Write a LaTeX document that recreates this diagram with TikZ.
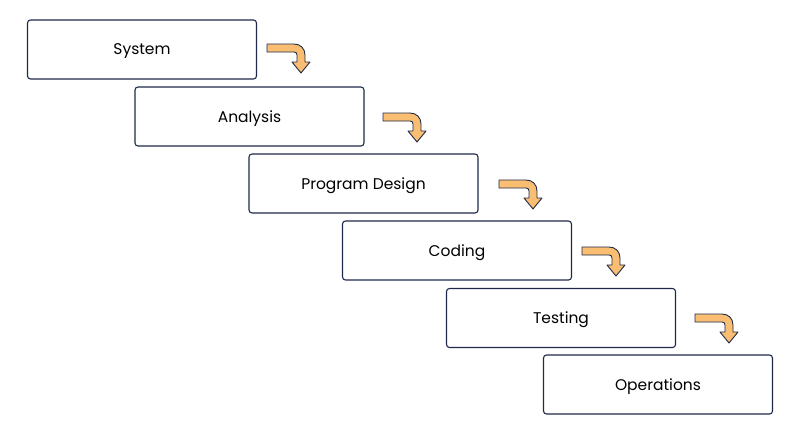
\documentclass[tikz,border=0pt]{standalone}
\usepackage{fontspec}
\setmainfont{Poppins}
\begin{document}
\begin{tikzpicture}[x=1pt,y=-1pt,
  box/.style={draw=navy,line width=1.1pt,rounded corners=3pt,minimum width=229pt,minimum height=59pt,inner sep=0pt,font=\fontsize{15.5}{18}\selectfont,text=black,text depth=0pt},
  arr/.style={fill=orangef,draw=navy,line width=0.9pt,line join=round}]
\definecolor{navy}{HTML}{1F2A4A}
\definecolor{orangef}{HTML}{F9BE72}
\useasboundingbox (0,0) rectangle (800,437);
\node[box] (s) at (142,49.5) {System};
\node[box] (a) at (249.5,116.5) {Analysis};
\node[box] (p) at (363.5,183.5) {Program Design};
\node[box] (c) at (457,250.5) {Coding};
\node[box] (t) at (561,318) {Testing};
\node[box] (o) at (658,384.5) {Operations};
\foreach \n/\x/\y in {1/267/44,2/383/113,3/499/180,4/582/247,5/695/314}{
  \begin{scope}[shift={(\x,\y)}]
  \draw[arr] (0,0) -- (27,0) .. controls (33.5,0) and (38,4.5) .. (38,11) -- (38,18) -- (43,18) -- (34,29) -- (25,18) -- (30,18) -- (30,11) .. controls (30,9) and (29,8) .. (27,8) -- (0,8) -- cycle;
  \end{scope}}
\end{tikzpicture}
\end{document}
